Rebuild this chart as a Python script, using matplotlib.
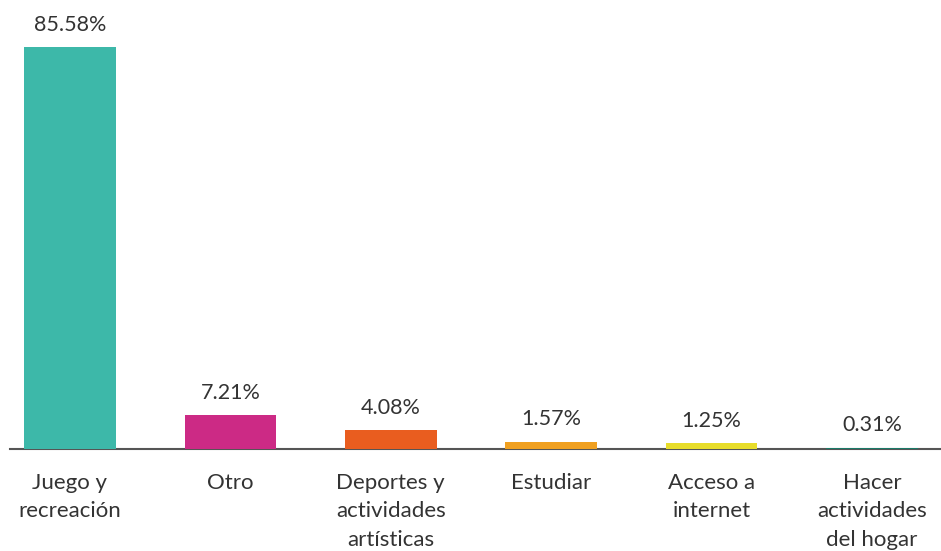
import matplotlib
matplotlib.use("Agg")
import matplotlib.pyplot as plt

categories = ["Juego y\nrecreación", "Otro", "Deportes y\nactividades\nartísticas",
              "Estudiar", "Acceso a\ninternet", "Hacer\nactividades\ndel hogar"]
values = [85.58, 7.21, 4.08, 1.57, 1.25, 0.31]
colors = ["#3DB8A9", "#CC2A85", "#E95D1F", "#F0A020", "#E8DD2A", "#1A7A68"]

plt.rcParams["font.family"] = ["Lato", "DejaVu Sans"]

fig = plt.figure(figsize=(9.41, 5.51), dpi=100)
ax = fig.add_axes([10 / 941, 102 / 551, 930 / 941, 449 / 551])

pos = list(range(len(values)))
ax.bar(pos, values, width=0.57, color=colors, zorder=3)

for x, v in zip(pos, values):
    ax.text(x, v + 2.6, "%.2f%%" % v, ha="center", va="bottom",
            fontsize=15.5, color="#333333")

ax.set_xlim(-0.374, 5.424)
ax.set_ylim(0, 95.6)
ax.set_xticks(pos)
ax.set_xticklabels(categories, fontsize=16, color="#333333", linespacing=1.55)
ax.tick_params(axis="x", length=0, pad=17)
ax.set_yticks([])

for side in ["top", "right", "left"]:
    ax.spines[side].set_visible(False)
ax.spines["bottom"].set_color("#555555")
ax.spines["bottom"].set_linewidth(1.5)
ax.spines["bottom"].set_zorder(1)

fig.savefig("out.png", dpi=100)
